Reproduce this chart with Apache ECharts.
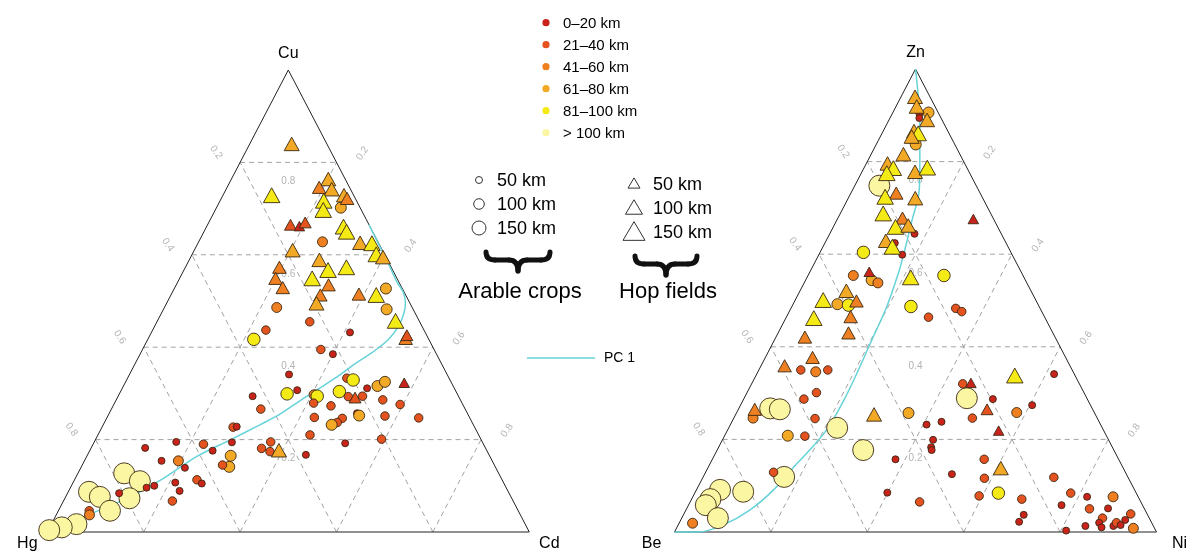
<!DOCTYPE html>
<html><head><meta charset="utf-8">
<script src="https://cdn.jsdelivr.net/npm/echarts@6/dist/echarts.min.js"></script>
<style>html,body{margin:0;padding:0;background:#fff}#c{width:1194px;height:554px}</style>
</head><body><div id="c"></div>
<script>
// ---------- data ----------
const classLabels = ['0–20 km','21–40 km','41–60 km','61–80 km','81–100 km','> 100 km'];
const classColors = ['#c9231b','#e4521f','#ee8022','#f2aa26','#f4ea16','#fbf6a2'];
const tickValues = [0.2,0.4,0.6,0.8];
const sizeLegendLabels = ['50 km','100 km','150 km'];
const leftVertexNames = ['Cu','Hg','Cd'];
const rightVertexNames = ['Zn','Be','Ni'];

// Left ternary: [Cu, Hg, Cd, distance class]
const leftCircles = [
[0.127,0.777,0.096,5],[0.110,0.753,0.137,5],[0.087,0.870,0.043,5],[0.076,0.853,0.071,5],
[0.073,0.793,0.134,5],[0.046,0.847,0.107,5],[0.017,0.931,0.052,5],[0.010,0.965,0.025,5],[0.004,0.994,0.002,5],
[0.702,0.040,0.258,3],[0.628,0.115,0.257,2],[0.527,0.034,0.439,3],[0.482,0.055,0.463,3],
[0.486,0.281,0.233,2],[0.455,0.228,0.317,1],[0.437,0.328,0.235,1],[0.417,0.363,0.220,4],
[0.432,0.156,0.412,0],[0.395,0.235,0.370,1],[0.385,0.215,0.400,0],[0.341,0.328,0.331,0],
[0.333,0.212,0.455,1],[0.329,0.201,0.470,4],[0.316,0.157,0.527,3],[0.325,0.137,0.538,3],
[0.299,0.353,0.348,4],[0.307,0.328,0.365,0],[0.294,0.427,0.279,0],[0.297,0.298,0.405,2],
[0.294,0.293,0.413,4],[0.304,0.242,0.454,4],[0.293,0.229,0.478,1],[0.294,0.199,0.507,1],
[0.311,0.181,0.508,0],[0.286,0.161,0.553,1],[0.276,0.130,0.594,1],[0.279,0.308,0.413,1],
[0.273,0.275,0.452,1],[0.266,0.424,0.310,1],[0.248,0.322,0.430,1],[0.246,0.265,0.489,1],
[0.237,0.280,0.483,1],[0.232,0.294,0.474,3],[0.257,0.229,0.514,0],[0.252,0.227,0.521,3],
[0.251,0.174,0.575,1],[0.247,0.106,0.647,1],[0.210,0.350,0.440,1],[0.201,0.206,0.593,1],
[0.192,0.286,0.522,0],[0.195,0.439,0.366,1],[0.181,0.465,0.354,1],[0.174,0.451,0.375,1],
[0.167,0.380,0.453,0],[0.182,0.706,0.112,0],[0.195,0.635,0.170,0],[0.154,0.686,0.160,0],
[0.154,0.651,0.195,2],[0.139,0.645,0.216,0],[0.190,0.581,0.229,1],[0.176,0.569,0.255,0],
[0.227,0.501,0.272,1],[0.228,0.493,0.279,0],[0.194,0.520,0.286,0],[0.165,0.537,0.298,3],
[0.141,0.552,0.307,3],[0.145,0.564,0.291,1],[0.113,0.633,0.254,1],[0.105,0.627,0.268,0],
[0.107,0.681,0.212,0],[0.089,0.681,0.230,0],[0.067,0.707,0.226,1],[0.100,0.728,0.172,0],
[0.096,0.746,0.158,0],[0.084,0.809,0.107,0],[0.046,0.890,0.064,1],[0.037,0.894,0.069,2]
];
const leftTriangles = [
[0.840,0.073,0.087,3],[0.729,0.170,0.101,4],[0.764,0.035,0.201,3],[0.746,0.063,0.191,2],
[0.742,0.039,0.219,3],[0.729,0.020,0.251,3],[0.722,0.017,0.261,2],[0.717,0.068,0.215,4],
[0.697,0.079,0.224,4],[0.665,0.163,0.172,1],[0.662,0.146,0.192,0],[0.670,0.130,0.200,1],
[0.661,0.055,0.284,4],[0.650,0.054,0.296,4],[0.626,0.038,0.336,3],[0.625,0.014,0.361,4],
[0.601,0.017,0.382,4],[0.595,0.006,0.399,3],[0.610,0.186,0.204,3],[0.573,0.232,0.195,2],
[0.589,0.141,0.270,3],[0.567,0.134,0.299,4],[0.573,0.093,0.334,4],[0.549,0.252,0.199,2],
[0.529,0.247,0.224,2],[0.549,0.176,0.275,4],[0.535,0.149,0.316,2],[0.515,0.096,0.389,2],
[0.513,0.061,0.426,4],[0.513,0.177,0.310,2],[0.495,0.194,0.311,3],[0.457,0.049,0.494,4],
[0.419,0.047,0.534,2],[0.426,0.041,0.533,1],[0.323,0.098,0.579,0],[0.291,0.216,0.493,1],
[0.177,0.431,0.392,3]
];
const leftPC1 = [
[0,1,0],[0.011,0.964,0.025],[0.037,0.896,0.067],[0.076,0.790,0.134],[0.116,0.701,0.183],
[0.163,0.609,0.228],[0.199,0.522,0.279],[0.232,0.443,0.325],[0.255,0.390,0.355],
[0.284,0.334,0.382],[0.312,0.278,0.410],[0.340,0.223,0.437],[0.364,0.180,0.456],
[0.390,0.129,0.481],[0.416,0.085,0.499],[0.444,0.050,0.506],[0.474,0.023,0.503],
[0.496,0.009,0.495],[0.519,0.002,0.479],[0.541,0.004,0.455],[0.578,0.002,0.420],
[0.621,0.001,0.378],[0.665,0.000,0.335]
];

// Right ternary: [Zn, Be, Ni, distance class]
const rightCircles = [
[0.748,0.201,0.051,5],[0.267,0.668,0.065,5],[0.265,0.649,0.086,5],[0.225,0.550,0.225,5],
[0.177,0.520,0.303,5],[0.119,0.713,0.168,5],[0.091,0.860,0.049,5],[0.071,0.890,0.039,5],
[0.058,0.906,0.036,5],[0.087,0.814,0.099,5],[0.030,0.895,0.075,5],[0.289,0.249,0.462,5],
[0.906,0.020,0.074,3],[0.904,0.040,0.056,0],[0.894,0.045,0.061,0],[0.837,0.081,0.082,3],
[0.644,0.180,0.176,0],[0.624,0.231,0.145,0],[0.604,0.306,0.090,4],[0.599,0.228,0.173,0],
[0.554,0.352,0.094,2],[0.544,0.319,0.137,3],[0.538,0.309,0.153,2],[0.554,0.164,0.282,4],
[0.492,0.416,0.092,3],[0.490,0.394,0.116,4],[0.487,0.266,0.247,4],[0.483,0.175,0.342,1],
[0.476,0.166,0.358,1],[0.464,0.241,0.295,1],[0.350,0.563,0.087,1],[0.346,0.534,0.120,2],
[0.350,0.507,0.143,1],[0.301,0.555,0.144,1],[0.287,0.588,0.125,1],[0.246,0.714,0.040,2],
[0.245,0.586,0.169,1],[0.257,0.386,0.357,3],[0.232,0.361,0.407,0],[0.238,0.327,0.435,0],
[0.208,0.661,0.131,3],[0.207,0.626,0.167,1],[0.157,0.463,0.380,0],[0.129,0.730,0.141,1],
[0.085,0.516,0.399,0],[0.019,0.953,0.028,2],[0.320,0.242,0.438,1],[0.287,0.196,0.517,0],
[0.246,0.259,0.495,1],[0.258,0.161,0.581,2],[0.341,0.042,0.617,0],[0.274,0.121,0.605,0],
[0.199,0.364,0.437,0],[0.183,0.376,0.441,0],[0.177,0.378,0.445,0],[0.157,0.279,0.564,1],
[0.125,0.362,0.513,0],[0.116,0.299,0.585,1],[0.118,0.154,0.728,1],[0.084,0.286,0.630,4],
[0.078,0.329,0.593,1],[0.071,0.244,0.685,1],[0.065,0.459,0.476,1],[0.037,0.257,0.706,0],
[0.022,0.274,0.704,0],[0.084,0.136,0.780,1],[0.076,0.106,0.818,0],[0.076,0.052,0.872,2],
[0.058,0.168,0.774,0],[0.050,0.114,0.836,1],[0.051,0.075,0.874,0],[0.039,0.034,0.927,1],
[0.026,0.052,0.922,0],[0.030,0.097,0.873,1],[0.020,0.109,0.871,0],[0.010,0.109,0.881,0],
[0.013,0.083,0.904,0],[0.020,0.073,0.907,1],[0.015,0.067,0.918,0],[0.008,0.044,0.948,2],
[0.013,0.141,0.846,0],[0.003,0.186,0.811,0]
];
const rightTriangles = [
[0.940,0.031,0.029,3],[0.919,0.038,0.043,3],[0.890,0.031,0.079,3],[0.866,0.070,0.064,3],
[0.861,0.064,0.075,4],[0.854,0.081,0.065,3],[0.816,0.117,0.067,3],[0.796,0.160,0.044,3],
[0.786,0.153,0.061,4],[0.775,0.172,0.053,4],[0.778,0.112,0.110,3],[0.787,0.082,0.131,4],
[0.732,0.174,0.094,2],[0.724,0.201,0.075,4],[0.721,0.140,0.139,3],[0.688,0.223,0.089,4],
[0.678,0.188,0.134,2],[0.659,0.212,0.129,4],[0.662,0.184,0.154,3],[0.629,0.247,0.124,3],
[0.616,0.240,0.144,4],[0.676,0.042,0.282,0],[0.562,0.315,0.123,0],[0.550,0.235,0.215,4],
[0.521,0.383,0.096,3],[0.501,0.441,0.058,4],[0.499,0.373,0.128,2],[0.462,0.480,0.058,4],
[0.465,0.402,0.133,2],[0.421,0.519,0.060,2],[0.430,0.424,0.146,2],[0.377,0.525,0.098,2],
[0.359,0.592,0.049,2],[0.265,0.701,0.034,2],[0.254,0.459,0.287,3],[0.322,0.224,0.454,0],
[0.265,0.219,0.516,1],[0.338,0.125,0.537,4],[0.219,0.218,0.563,0],[0.138,0.254,0.608,3]
];
const rightPC1 = [
[1,0,0],[0.933,0.027,0.040],[0.886,0.048,0.066],[0.814,0.084,0.102],[0.742,0.121,0.137],
[0.670,0.173,0.157],[0.598,0.226,0.176],[0.559,0.256,0.185],[0.487,0.316,0.197],
[0.415,0.383,0.202],[0.343,0.450,0.207],[0.285,0.506,0.209],[0.225,0.569,0.206],
[0.177,0.631,0.192],[0.148,0.672,0.180],[0.091,0.749,0.160],[0.048,0.819,0.133],
[0.015,0.892,0.093],[0,0.951,0.049],[0,1,0]
];

// ---------- chart ----------
const FONT = '"Liberation Sans", Arial, sans-serif';
const circleSizes = [7, 8.5, 10, 11, 12.5, 21];
const triSizes = [10.5, 12, 13.5, 15, 16.5, 19];
const PC_COLOR = '#66d3d8';

function tern(top, left, right) { return [right + top / 2, top]; }
function pt(p) { return tern(p[0], p[1], p[2]); }

function pointData(arr, tri) {
  return arr.map(p => ({
    value: pt(p),
    symbolSize: tri ? [triSizes[p[3]], triSizes[p[3]] * 0.9] : circleSizes[p[3]],
    itemStyle: { color: classColors[p[3]] }
  }));
}

function frameSeries(gi) {
  const s = [];
  const seg = (a, b) => s.push({
    type: 'line', xAxisIndex: gi, yAxisIndex: gi, data: [a, b], symbol: 'none',
    silent: true, clip: false, z: 1,
    lineStyle: { color: '#a3a3a3', width: 1, type: [5, 4] }
  });
  tickValues.forEach(v => {
    seg(tern(v, 1 - v, 0), tern(v, 0, 1 - v));
    seg(tern(0, 1 - v, v), tern(1 - v, 0, v));
    seg(tern(0, v, 1 - v), tern(1 - v, v, 0));
  });
  s.push({
    type: 'line', xAxisIndex: gi, yAxisIndex: gi, symbol: 'none', silent: true, clip: false, z: 2,
    data: [tern(1, 0, 0), tern(0, 1, 0), tern(0, 0, 1), tern(1, 0, 0)],
    lineStyle: { color: '#222', width: 1 }
  });
  return s;
}

function dataSeries(gi, circles, tris, pc) {
  return [
    { type: 'line', xAxisIndex: gi, yAxisIndex: gi, symbol: 'none', silent: true, clip: false, z: 3,
      smooth: 0.35, data: pc.map(pt), lineStyle: { color: PC_COLOR, width: 1.5 } },
    { type: 'scatter', xAxisIndex: gi, yAxisIndex: gi, symbol: 'circle', clip: false, z: 4,
      data: pointData(circles, false),
      itemStyle: { borderColor: '#3a2812', borderWidth: 0.9, opacity: 1 } },
    { type: 'scatter', xAxisIndex: gi, yAxisIndex: gi, symbol: 'triangle', clip: false, z: 5,
      data: pointData(tris, true),
      itemStyle: { borderColor: '#3a2812', borderWidth: 0.9, opacity: 1 } }
  ];
}

const grids = [
  { left: 47.3, top: 70, width: 482, height: 462 },
  { left: 674.5, top: 69, width: 482, height: 463 }
];
const axis = i => ({ type: 'value', min: 0, max: 1, show: false, gridIndex: i });

const chart = echarts.init(document.getElementById('c'), null, { renderer: 'canvas' });
chart.setOption({
  animation: false,
  backgroundColor: '#fff',
  grid: grids,
  xAxis: [axis(0), axis(1)],
  yAxis: [axis(0), axis(1)],
  series: [].concat(
    frameSeries(0), frameSeries(1),
    dataSeries(0, leftCircles, leftTriangles, leftPC1),
    dataSeries(1, rightCircles, rightTriangles, rightPC1)
  )
});

// ---------- text & legend graphics ----------
const g = [];
function txt(x, y, text, size, opts) {
  g.push(Object.assign({
    type: 'text', x: x, y: y, silent: true,
    style: Object.assign({ text: text, fill: '#000', font: size + 'px ' + FONT, align: 'left', verticalAlign: 'middle' }, (opts && opts.style) || {})
  }, (opts && opts.el) || {}));
}
function px(gi, p) { return chart.convertToPixel({ gridIndex: gi }, p); }

[0, 1].forEach(gi => {
  const names = gi === 0 ? leftVertexNames : rightVertexNames;
  const top = px(gi, tern(1, 0, 0)), lft = px(gi, tern(0, 1, 0)), rgt = px(gi, tern(0, 0, 1));
  const side = gi === 0 ? 20 : 23;
  txt(top[0], top[1] - 16, names[0], 16, { style: { align: 'center' } });
  txt(lft[0] - side, lft[1] + 12, names[1], 16, { style: { align: 'center' } });
  txt(rgt[0] + side, rgt[1] + 12, names[2], 16, { style: { align: 'center' } });
  tickValues.forEach(v => {
    const lab = String(v);
    const a = px(gi, tern(1 - v, v, 0));
    txt(a[0] - 24, a[1] - 10, lab, 10, { style: { align: 'center', fill: '#b3b3b3' }, el: { rotation: -55 * Math.PI / 180 } });
    const b = px(gi, tern(1 - v, 0, v));
    txt(b[0] + 26, b[1] - 9, lab, 10, { style: { align: 'center', fill: '#b3b3b3' }, el: { rotation: 55 * Math.PI / 180 } });
    const c = px(gi, tern(v, (1 - v) / 2, (1 - v) / 2));
    txt(c[0], c[1] + 19, lab, 10, { style: { align: 'center', fill: '#b3b3b3' } });
  });
});

// colour legend
classLabels.forEach((lab, i) => {
  const y = 22.7 + i * 22;
  g.push({ type: 'circle', silent: true, shape: { cx: 546, cy: y, r: 3.6 }, style: { fill: classColors[i] } });
  txt(563, y + 1, lab, 15);
});

// size legends
const circR = [3.5, 5.3, 7];
const triW = [12, 17, 22];
sizeLegendLabels.forEach((lab, i) => {
  const y = 180 + i * 24;
  g.push({ type: 'circle', silent: true, shape: { cx: 479, cy: y, r: circR[i] }, style: { fill: 'none', stroke: '#333', lineWidth: 1 } });
  txt(497, y + 1, lab, 18);
  const ty = 183 + i * 24, w = triW[i], h = w * 0.85;
  g.push({ type: 'polygon', silent: true, shape: { points: [[634, ty - h / 2], [634 + w / 2, ty + h / 2], [634 - w / 2, ty + h / 2]] }, style: { fill: 'none', stroke: '#333', lineWidth: 1 } });
  txt(653, ty + 2, lab, 18);
});

// braces
function brace(x0, x1, yTop, yMid, yBot) {
  const m = (x0 + x1) / 2, st = { stroke: '#111', lineWidth: 5, fill: 'none', lineCap: 'round' };
  const k = 9;
  [
    { x1: x0, y1: yTop, cpx1: x0, cpy1: yMid, x2: x0 + k, y2: yMid },
    { x1: m - k, y1: yMid, cpx1: m, cpy1: yMid, x2: m, y2: yBot },
    { x1: m, y1: yBot, cpx1: m, cpy1: yMid, x2: m + k, y2: yMid },
    { x1: x1 - k, y1: yMid, cpx1: x1, cpy1: yMid, x2: x1, y2: yTop }
  ].forEach(s => g.push({ type: 'bezierCurve', silent: true, shape: s, style: st }));
  g.push({ type: 'line', silent: true, shape: { x1: x0 + k, y1: yMid, x2: m - k, y2: yMid }, style: st });
  g.push({ type: 'line', silent: true, shape: { x1: m + k, y1: yMid, x2: x1 - k, y2: yMid }, style: st });
}
brace(486, 550, 252, 260, 271);
brace(635, 697, 256, 264, 275);
txt(520, 292, 'Arable crops', 22, { style: { align: 'center' } });
txt(668, 292, 'Hop fields', 22, { style: { align: 'center' } });

// PC1 legend
g.push({ type: 'line', silent: true, shape: { x1: 527, y1: 358, x2: 595, y2: 358 }, style: { stroke: PC_COLOR, lineWidth: 1.5 } });
txt(604, 358, 'PC 1', 14);

chart.setOption({ graphic: g });
</script>
</body></html>
